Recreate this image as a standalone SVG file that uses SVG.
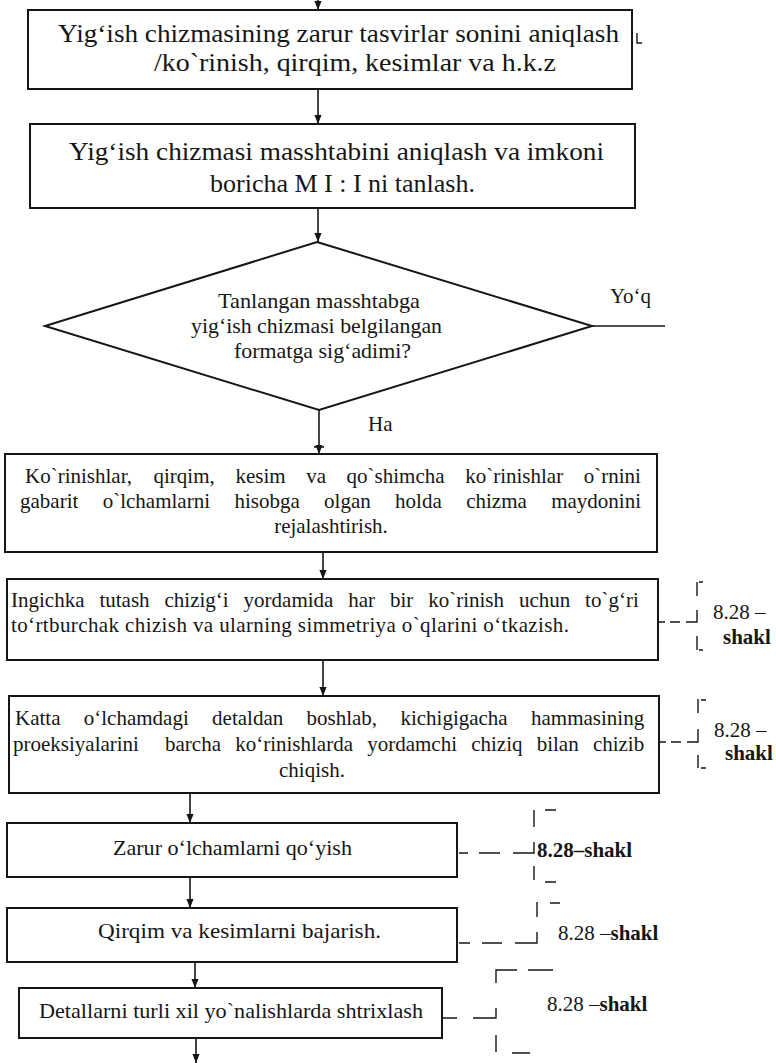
<svg xmlns="http://www.w3.org/2000/svg" width="776" height="1063" viewBox="0 0 776 1063">
<style>
.bg{fill:#fff}
.box{fill:#fff;stroke:#161616;stroke-width:2}
.t{font-family:"Liberation Serif","Times New Roman",serif;fill:#161616}
.b1{font-size:25px}
.b2{font-size:21px}
.b3{font-size:22px}
.lb{font-size:21px}
.bold{font-weight:bold}
.c{stroke:#161616;stroke-width:1.6;fill:none}
.k{stroke:#161616;stroke-width:1.4;fill:none}
</style>
<defs>
<marker id="ah" viewBox="0 0 10 8" refX="10" refY="4" markerWidth="9" markerHeight="8" markerUnits="userSpaceOnUse" orient="auto">
<path d="M0,0 L10,4 L0,8 z" fill="#161616"/>
</marker>
</defs>
<rect class="bg" x="0" y="0" width="776" height="1063"/>

<g id="connectors">
<line class="c" x1="318" y1="0" x2="318" y2="10" marker-end="url(#ah)"/>
<line class="c" x1="318" y1="89" x2="318" y2="124" marker-end="url(#ah)"/>
<line class="c" x1="318" y1="208" x2="318" y2="242" marker-end="url(#ah)"/>
<line class="c" x1="319" y1="410" x2="319" y2="454" marker-end="url(#ah)"/>
<line class="c" x1="314" y1="447" x2="324" y2="447"/>
<line class="c" x1="592" y1="326" x2="665" y2="326"/>
<line class="c" x1="323" y1="552" x2="323" y2="579" marker-end="url(#ah)"/>
<line class="c" x1="323" y1="660" x2="323" y2="696" marker-end="url(#ah)"/>
<line class="c" x1="190" y1="793" x2="190" y2="823" marker-end="url(#ah)"/>
<line class="c" x1="190" y1="877" x2="190" y2="908" marker-end="url(#ah)"/>
<line class="c" x1="195" y1="962" x2="195" y2="988" marker-end="url(#ah)"/>
<line class="c" x1="196" y1="1038" x2="196" y2="1063" marker-end="url(#ah)"/>
<path class="k" d="M637,33V43H642"/>
<path class="k" d="M659,622H665M670,622H680M686,622H697V610"/>
<path class="k" d="M697,582V596M699,582H703M697,636V650M699,650H703"/>
<path class="k" d="M660,742H666M671,742H681M687,742H698V729"/>
<path class="k" d="M698,699V713M701,700H706M698,755V768M701,768H706"/>
<path class="k" d="M459,853H468M479,853H500M513,853H534V842"/>
<path class="k" d="M534,810V827M545,810H556M534,866V880M545,882H556"/>
<path class="k" d="M459,943H470M482,943H502M515,943H537V932"/>
<path class="k" d="M537,902V917M550,903H560"/>
<path class="k" d="M443,1018H457M473,1018H496V1008"/>
<path class="k" d="M496,983V970H517M528,970H553M496,1035V1052M512,1053H530"/>
</g>

<g id="n1">
<rect class="box" x="28" y="10" width="604" height="79"/>
<text class="t b1" x="58" y="42" textLength="561" lengthAdjust="spacingAndGlyphs">Yig‘ish chizmasining zarur tasvirlar sonini aniqlash</text>
<text class="t b1" x="154" y="71" textLength="402" lengthAdjust="spacingAndGlyphs">/ko`rinish, qirqim, kesimlar va h.k.z</text>
</g>

<g id="n2">
<rect class="box" x="30" y="124" width="605" height="84"/>
<text class="t b1" x="69" y="160" textLength="535" lengthAdjust="spacingAndGlyphs">Yig‘ish chizmasi masshtabini aniqlash va imkoni</text>
<text class="t b1" x="210" y="192" textLength="265" lengthAdjust="spacingAndGlyphs">boricha M I : I ni tanlash.</text>
</g>

<g id="n3">
<polygon class="box" points="317,242 592,326 319,410 45,326"/>
<text class="t b2" x="218" y="308" textLength="202" lengthAdjust="spacingAndGlyphs">Tanlangan masshtabga</text>
<text class="t b2" x="191" y="333" textLength="251" lengthAdjust="spacingAndGlyphs">yig‘ish chizmasi belgilangan</text>
<text class="t b2" x="234" y="358" textLength="177" lengthAdjust="spacingAndGlyphs">formatga sig‘adimi?</text>
</g>

<g id="lbl-yoq"><text class="t b2" x="610" y="303">Yo‘q</text></g>
<g id="lbl-ha"><text class="t b2" x="368" y="431">Ha</text></g>

<g id="n4">
<rect class="box" x="5" y="454" width="652" height="98"/>
<text class="t b2" y="483"><tspan x="25">Ko`rinishlar,</tspan><tspan x="153.5">qirqim,</tspan><tspan x="235.4">kesim</tspan><tspan x="306.2">va</tspan><tspan x="346.6">qo`shimcha</tspan><tspan x="465.2">ko`rinishlar</tspan><tspan x="583.8">o`rnini</tspan></text>
<text class="t b2" y="508"><tspan x="20">gabarit</tspan><tspan x="102.7">o`lchamlarni</tspan><tspan x="234.4">hisobga</tspan><tspan x="324.1">olgan</tspan><tspan x="395.1">holda</tspan><tspan x="466.2">chizma</tspan><tspan x="551.2">maydonini</tspan></text>
<text class="t b2" x="331" y="533" text-anchor="middle">rejalashtirish.</text>
</g>

<g id="n5">
<rect class="box" x="7" y="579" width="651" height="81"/>
<text class="t b2" y="607"><tspan x="11">Ingichka</tspan><tspan x="99.4">tutash</tspan><tspan x="164.5">chizig‘i</tspan><tspan x="243.6">yordamida</tspan><tspan x="348.3">har</tspan><tspan x="390">bir</tspan><tspan x="428.2">ko`rinish</tspan><tspan x="518.9">uchun</tspan><tspan x="585.1">to`g‘ri</tspan></text>
<text class="t b2" x="11" y="632" textLength="558" lengthAdjust="spacing">to‘rtburchak chizish va ularning simmetriya o`qlarini o‘tkazish.</text>
</g>

<g id="lbl-n5"><text class="t lb" x="713" y="619">8.28 –</text><text class="t lb bold" x="723" y="644">shakl</text></g>

<g id="n6">
<rect class="box" x="9" y="696" width="650" height="97"/>
<text class="t b2" y="725"><tspan x="15">Katta</tspan><tspan x="83.8">o‘lchamdagi</tspan><tspan x="212.1">detaldan</tspan><tspan x="306.5">boshlab,</tspan><tspan x="400.4">kichigigacha</tspan><tspan x="531">hammasining</tspan></text>
<text class="t b2" y="751"><tspan x="13">proeksiyalarini</tspan><tspan x="165">barcha</tspan><tspan x="235.2">ko‘rinishlarda</tspan><tspan x="367.2">yordamchi</tspan><tspan x="471.2">chiziq</tspan><tspan x="536.7">bilan</tspan><tspan x="592.9">chizib</tspan></text>
<text class="t b2" x="312" y="777" text-anchor="middle">chiqish.</text>
</g>

<g id="lbl-n6"><text class="t lb" x="714" y="737">8.28 –</text><text class="t lb bold" x="725" y="760">shakl</text></g>

<g id="n7">
<rect class="box" x="7" y="823" width="450" height="54"/>
<text class="t b3" x="113" y="855" textLength="239" lengthAdjust="spacingAndGlyphs">Zarur o‘lchamlarni qo‘yish</text>
</g>
<g id="lbl-n7"><text class="t lb bold" x="537" y="857">8.28–shakl</text></g>

<g id="n8">
<rect class="box" x="7" y="908" width="450" height="54"/>
<text class="t b3" x="98" y="938" textLength="283" lengthAdjust="spacingAndGlyphs">Qirqim va kesimlarni bajarish.</text>
</g>
<g id="lbl-n8"><text class="t lb" x="558" y="940">8.28 –<tspan class="bold">shakl</tspan></text></g>

<g id="n9">
<rect class="box" x="19" y="988" width="423" height="50"/>
<text class="t b3" x="39" y="1018" textLength="384" lengthAdjust="spacingAndGlyphs">Detallarni turli xil yo`nalishlarda shtrixlash</text>
</g>
<g id="lbl-n9"><text class="t lb" x="547" y="1011">8.28 –<tspan class="bold">shakl</tspan></text></g>
</svg>
